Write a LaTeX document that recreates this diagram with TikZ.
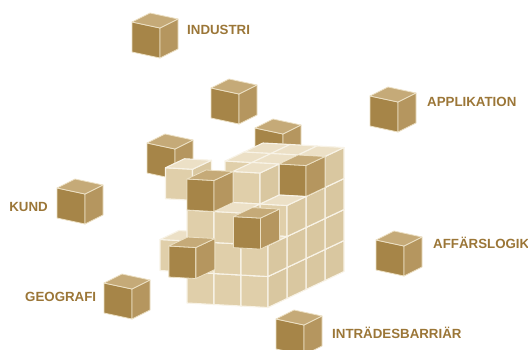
\documentclass[tikz,border=0pt]{standalone}
\usepackage{fontspec}
\setmainfont{Liberation Sans}
\definecolor{tagtext}{RGB}{155,118,55}
\definecolor{darkfill}{RGB}{166,133,72}
\definecolor{darksidefill}{RGB}{181,150,95}
\definecolor{darktopfill}{RGB}{197,170,120}
\definecolor{darkedge}{RGB}{236,224,196}
\definecolor{lightfill}{RGB}{224,207,170}
\definecolor{lightsidefill}{RGB}{217,199,160}
\definecolor{lighttopfill}{RGB}{236,224,198}
\definecolor{lightedge}{RGB}{248,243,231}
\tikzstyle{darkfront}=[fill=darkfill,draw=darkedge,line width=0.8pt,line join=round]
\tikzstyle{darkside}=[fill=darksidefill,draw=darkedge,line width=0.8pt,line join=round]
\tikzstyle{darktop}=[fill=darktopfill,draw=darkedge,line width=0.8pt,line join=round]
\tikzstyle{lightfront}=[fill=lightfill,draw=lightedge,line width=1.1pt,line join=round]
\tikzstyle{lightside}=[fill=lightsidefill,draw=lightedge,line width=1.1pt,line join=round]
\tikzstyle{lighttop}=[fill=lighttopfill,draw=lightedge,line width=1.1pt,line join=round]
\tikzstyle{loosecube}=[x={(28pt,-6pt)},y={(18pt,9pt)},z={(0pt,30pt)}]
\tikzstyle{stack}=[x={(27pt,-1.5pt)},y={(19pt,9pt)},z={(0pt,31pt)}]
\tikzstyle{tag}=[inner sep=0pt,text=tagtext,font=\fontsize{13.3}{15}\selectfont\bfseries]
% one cube: x, y, z of its front lower left corner, tone
\newcommand{\cubeat}[4]{%
  \filldraw[style=#4front] (#1,#2,#3) -- ++(1,0,0) -- ++(0,0,1) -- ++(-1,0,0) -- cycle;
  \filldraw[style=#4side] (#1+1,#2,#3) -- ++(0,1,0) -- ++(0,0,1) -- ++(0,-1,0) -- cycle;
  \filldraw[style=#4top] (#1,#2,#3+1) -- ++(1,0,0) -- ++(0,1,0) -- ++(-1,0,0) -- cycle;}

\begin{document}
\begin{tikzpicture}[x=1pt,y=-1pt]
	\useasboundingbox (0,0) rectangle (528,349);
	\clip (0,0) rectangle (528,349);
	% loose cubes behind the stack
	\begin{scope}[shift={(211,118)},loosecube] \cubeat{0}{0}{0}{dark} \end{scope}
	\begin{scope}[shift={(255,158)},loosecube] \cubeat{0}{0}{0}{dark} \end{scope}
	\begin{scope}[shift={(147,173)},loosecube] \cubeat{0}{0}{0}{dark} \end{scope}
	% the stack, back to front
	\begin{scope}[shift={(187,303)},stack]
		\foreach \z in {0,1,2,3} {\foreach \x in {0,1,2} {\cubeat{\x}{3}{\z}{light}}}
		\foreach \z in {0,1,2} {\foreach \x in {0,1,2} {\cubeat{\x}{2}{\z}{light}}}
		\cubeat{0}{2}{3}{light} \cubeat{1}{2}{3}{light} \cubeat{2}{2}{3}{dark}
		\foreach \z in {0,1,2} {\foreach \x in {0,1,2} {\cubeat{\x}{1}{\z}{light}}}
		\cubeat{-1.5}{1}{3}{light} \cubeat{1}{1}{3}{light}
		\foreach \x in {0,1,2} {\cubeat{\x}{0}{0}{light}}
		\cubeat{-1}{0}{1}{light} \cubeat{1}{0}{1}{light} \cubeat{2}{0}{1}{light}
		\cubeat{0}{0}{2}{light} \cubeat{1}{0}{2}{light}
		\cubeat{0}{0}{3}{dark}
		\cubeat{2}{-0.4}{2}{dark}
		\cubeat{-0.25}{-0.6}{1}{dark}
	\end{scope}
	% labelled cubes
	\begin{scope}[shift={(132,52)},loosecube] \cubeat{0}{0}{0}{dark} \end{scope}
	\begin{scope}[shift={(370,126)},loosecube] \cubeat{0}{0}{0}{dark} \end{scope}
	\begin{scope}[shift={(57,218)},loosecube] \cubeat{0}{0}{0}{dark} \end{scope}
	\begin{scope}[shift={(104,313)},loosecube] \cubeat{0}{0}{0}{dark} \end{scope}
	\begin{scope}[shift={(376,270)},loosecube] \cubeat{0}{0}{0}{dark} \end{scope}
	\begin{scope}[shift={(276,349)},loosecube] \cubeat{0}{0}{0}{dark} \end{scope}
	\node [style=tag, anchor=west] (industri) at (187,30) {INDUSTRI};
	\node [style=tag, anchor=west] (applikation) at (427,102) {APPLIKATION};
	\node [style=tag, anchor=east] (kund) at (48,207) {KUND};
	\node [style=tag, anchor=west] (geografi) at (25,297) {GEOGRAFI};
	\node [style=tag, anchor=west] (affarslogik) at (433,243) {AFFÄRSLOGIK};
	\node [style=tag, anchor=west] (intradesbarriar) at (332,333) {INTRÄDESBARRIÄR};
\end{tikzpicture}
\end{document}
